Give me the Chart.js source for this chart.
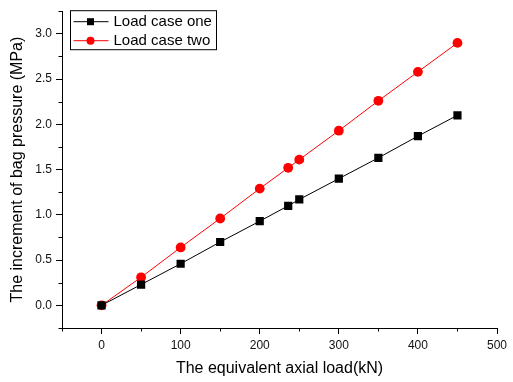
<!DOCTYPE html>
<html><head><meta charset="utf-8">
<script src="https://cdn.jsdelivr.net/npm/chart.js@4/dist/chart.umd.min.js"></script>
<style>html,body{margin:0;padding:0;background:#fff}#wrap{width:513px;height:382px}</style>
</head><body><div id="wrap"><canvas id="c" width="513" height="382"></canvas></div>
<script>
const loadsOne = [0, 50, 100, 150, 200, 236, 250, 300, 350, 400, 450];
const pressureOne = [0, 0.23, 0.46, 0.70, 0.93, 1.10, 1.17, 1.40, 1.63, 1.87, 2.10];
const loadsTwo = [0, 50, 100, 150, 200, 236, 250, 300, 350, 400, 450];
const pressureTwo = [0, 0.31, 0.64, 0.96, 1.29, 1.52, 1.61, 1.93, 2.26, 2.58, 2.90];
const xMajorTicks = [0, 100, 200, 300, 400, 500];
const xMinorTicks = [-50, 50, 150, 250, 350, 450];
const yMajorTicks = [0, 0.5, 1.0, 1.5, 2.0, 2.5, 3.0];
const yMinorTicks = [-0.25, 0.25, 0.75, 1.25, 1.75, 2.25, 2.75, 3.25];
const seriesLabels = ['Load case one', 'Load case two'];
const xTitle = 'The equivalent axial load(kN)';
const yTitle = 'The increment of bag pressure (MPa)';

const FONT = 'Liberation Sans, Arial, sans-serif';

const minorTicks = {
  id: 'minorTicks',
  afterDraw(chart) {
    const ctx = chart.ctx, xs = chart.scales.x, ys = chart.scales.y;
    ctx.save();
    ctx.strokeStyle = '#000'; ctx.lineWidth = 1;
    xMinorTicks.forEach(v => {
      const px = Math.round(xs.getPixelForValue(v)) + 0.5;
      ctx.beginPath(); ctx.moveTo(px, xs.top); ctx.lineTo(px, xs.top + 3.5); ctx.stroke();
    });
    yMinorTicks.forEach(v => {
      const py = Math.round(ys.getPixelForValue(v)) + 0.5;
      ctx.beginPath(); ctx.moveTo(ys.right, py); ctx.lineTo(ys.right - 3.5, py); ctx.stroke();
    });
    ctx.restore();
  }
};

const boxLegend = {
  id: 'boxLegend',
  afterDraw(chart) {
    const ctx = chart.ctx;
    const x0 = chart.chartArea.left + 8.5, y0 = chart.chartArea.top - 0.5;
    const w = 146, h = 39;
    ctx.save();
    ctx.strokeStyle = '#000'; ctx.lineWidth = 1;
    ctx.strokeRect(x0, y0, w, h);
    chart.data.datasets.forEach((ds, i) => {
      const cy = y0 + 11 + i * 19;
      ctx.strokeStyle = ds.borderColor; ctx.lineWidth = 1;
      ctx.beginPath(); ctx.moveTo(x0 + 3, cy); ctx.lineTo(x0 + 38, cy); ctx.stroke();
      ctx.fillStyle = ds.pointBackgroundColor;
      const mx = x0 + 20;
      if (ds.pointStyle === 'rect') {
        ctx.fillRect(mx - 3.5, cy - 3.5, 7, 7);
      } else {
        ctx.beginPath(); ctx.arc(mx, cy, 4, 0, Math.PI * 2); ctx.fill();
      }
      ctx.fillStyle = '#000';
      ctx.font = '15px ' + FONT;
      ctx.textBaseline = 'middle';
      ctx.fillText(ds.label, x0 + 43, cy + 0.5);
    });
    ctx.restore();
  }
};

new Chart(document.getElementById('c'), {
  type: 'line',
  data: {
    datasets: [
      {
        label: seriesLabels[0],
        data: loadsOne.map((x, i) => ({x, y: pressureOne[i]})),
        borderColor: '#000', backgroundColor: '#000',
        pointBackgroundColor: '#000', pointBorderColor: '#000',
        pointStyle: 'rect', pointRadius: 5.8, borderWidth: 1, pointBorderWidth: 0,
        tension: 0
      },
      {
        label: seriesLabels[1],
        data: loadsTwo.map((x, i) => ({x, y: pressureTwo[i]})),
        borderColor: '#ff0000', backgroundColor: '#ff0000',
        pointBackgroundColor: '#ff0000', pointBorderColor: '#ff0000',
        pointStyle: 'circle', pointRadius: 4.9, borderWidth: 1, pointBorderWidth: 0,
        tension: 0
      }
    ]
  },
  options: {
    responsive: false,
    animation: false,
    devicePixelRatio: 1,
    layout: { padding: { top: 5, right: 16, left: 0, bottom: 0 } },
    plugins: { legend: { display: false }, tooltip: { enabled: false } },
    scales: {
      x: {
        type: 'linear', min: -50, max: 500,
        afterBuildTicks: s => { s.ticks = xMajorTicks.map(v => ({value: v})); },
        afterFit: s => { s.height = 54; },
        border: { display: true, color: '#000', width: 1 },
        grid: { display: true, drawOnChartArea: false, drawTicks: true, tickLength: 6, tickColor: '#000' },
        ticks: { color: '#111', font: { family: FONT, size: 12 }, padding: 4, maxRotation: 0 },
        title: { display: true, text: xTitle, color: '#000', font: { family: FONT, size: 16 }, padding: { top: 0, bottom: 4 } }
      },
      y: {
        type: 'linear', min: -0.25, max: 3.25,
        afterBuildTicks: s => { s.ticks = yMajorTicks.map(v => ({value: v})); },
        afterFit: s => { s.width = 62; },
        border: { display: true, color: '#000', width: 1 },
        grid: { display: true, drawOnChartArea: false, drawTicks: true, tickLength: 6, tickColor: '#000' },
        ticks: { color: '#111', font: { family: FONT, size: 12 }, padding: 4,
                 callback: v => v.toFixed(1) },
        title: { display: true, text: yTitle, color: '#000', font: { family: FONT, size: 16 }, padding: { top: 8, bottom: 0 } }
      }
    }
  },
  plugins: [minorTicks, boxLegend]
});
</script></body></html>
